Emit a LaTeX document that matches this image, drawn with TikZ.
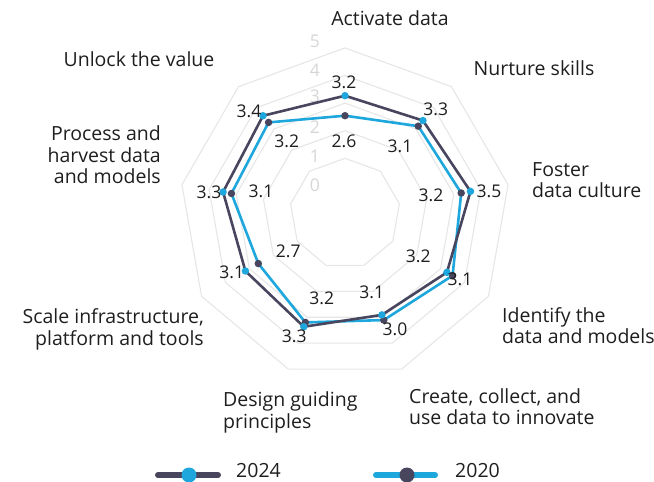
\documentclass[tikz,border=0pt]{standalone}
\usepackage{fontspec}
\setmainfont{Open Sans}
\definecolor{darkline}{HTML}{48455E}
\definecolor{blueline}{HTML}{1EA7DC}
\definecolor{gridc}{HTML}{E6E6E6}
\definecolor{ticklab}{HTML}{D6D6D6}
\definecolor{txt}{HTML}{1E1E1E}
\tikzset{
  ringline/.style={gridc, line width=1.1pt},
  ticktext/.style={ticklab, inner sep=0pt, font=\fontsize{17.5}{21.5}\selectfont},
  valtext/.style={txt, inner sep=0pt, font=\fontsize{17.5}{21.5}\selectfont},
  cattext/.style={txt, inner sep=0pt, font=\fontsize{19.5}{21.5}\selectfont},
  darkpath/.style={darkline, line width=2.6pt, line join=round},
  bluepath/.style={blueline, line width=2.6pt, line join=round},
  bluedot/.style={circle, fill=blueline, inner sep=0pt, minimum size=7.5pt},
  darkdot/.style={circle, fill=darkline, inner sep=0pt, minimum size=7.5pt},
  bigbluedot/.style={circle, fill=blueline, inner sep=0pt, minimum size=15pt},
  bigdarkdot/.style={circle, fill=darkline, inner sep=0pt, minimum size=15pt},
}
\begin{document}
\begin{tikzpicture}[x=1pt,y=-1pt]
\useasboundingbox (0,0) rectangle (654,482);
\def\cx{345}\def\cy{213.5}\def\u{27.6}
% grid rings
\foreach \k in {1,...,5}{
  \draw[ringline] ({\cx},{\cy-(\k+1)*\u})
    \foreach \a in {50,10,-30,-70,-110,-150,-190,-230}{ -- ({\cx+(\k+1)*\u*cos(\a)},{\cy-(\k+1)*\u*sin(\a)}) } -- cycle;
}
% tick labels
\foreach \t/\yy in {5/41,4/70,3/96.7,2/126.7,1/156.7,0/185}{
  \node[ticktext] (tick\t) at (315,\yy) {\t};
}
% data points: 2024 (blue markers, dark line), 2020 (dark markers, blue line)
\foreach \r [count=\i from 0] in {117.8,121.3,127.4,117.7,107.9,120.5,115,123.8,127.6}{
  \coordinate (p\i) at ({\cx+\r*cos(90-40*\i)},{\cy-\r*sin(90-40*\i)});
}
\foreach \r [count=\i from 0] in {97.8,114.0,118.0,124.2,113.4,115.9,100.1,115.3,118.9}{
  \coordinate (q\i) at ({\cx+\r*cos(90-40*\i)},{\cy-\r*sin(90-40*\i)});
}
\draw[bluepath] (q0) -- (q1) -- (q2) -- (q3) -- (q4) -- (q5) -- (q6) -- (q7) -- (q8) -- cycle;
\draw[darkpath] (p0) -- (p1) -- (p2) -- (p3) -- (p4) -- (p5) -- (p6) -- (p7) -- (p8) -- cycle;
\foreach \i in {0,...,8}{
  \node[darkdot] (qd\i) at (q\i) {};
  \node[bluedot] (pd\i) at (p\i) {};
}
% value labels 2024
\node[valtext] (v0) at (344,82.3) {3.2};
\node[valtext] (v1) at (435.7,109.3) {3.3};
\node[valtext] (v2) at (489,191) {3.5};
\node[valtext] (v3) at (460,279.3) {3.1};
\node[valtext] (v4) at (395,329.3) {3.0};
\node[valtext] (v5) at (294.3,336) {3.3};
\node[valtext] (v6) at (231.7,272.7) {3.1};
\node[valtext] (v7) at (209,192) {3.3};
\node[valtext] (v8) at (249,111.7) {3.4};
% value labels 2020
\node[valtext] (w0) at (344,141.7) {2.6};
\node[valtext] (w1) at (400,146.7) {3.1};
\node[valtext] (w2) at (431,195) {3.2};
\node[valtext] (w3) at (418.3,256.7) {3.2};
\node[valtext] (w4) at (371.7,292.7) {3.1};
\node[valtext] (w5) at (321.7,298.3) {3.2};
\node[valtext] (w6) at (288.3,251.7) {2.7};
\node[valtext] (w7) at (261,191.7) {3.1};
\node[valtext] (w8) at (286.7,141.7) {3.2};
% category labels
\node[cattext] (c0) at (390,18) {Activate data};
\node[cattext] (c1) at (534,68) {Nurture skills};
\node[cattext, anchor=west, align=left] (c2) at (532,180) {Foster\\data culture};
\node[cattext, anchor=west, align=left] (c3) at (502,325.5) {Identify the\\data and models};
\node[cattext, anchor=west, align=left] (c4) at (409,406.5) {Create, collect, and\\use data to innovate};
\node[cattext, anchor=west, align=left] (c5) at (223,412.5) {Design guiding\\principles};
\node[cattext, anchor=east, align=right] (c6) at (204,329.5) {Scale infrastructure,\\platform and tools};
\node[cattext, anchor=east, align=right] (c7) at (161,155) {Process and\\harvest data\\and models};
\node[cattext] (c8) at (139,59) {Unlock the value};
% legend
\coordinate (la) at (158,475);
\coordinate (lb) at (218,475);
\draw[darkline, line width=6pt, line cap=round] (la) -- (lb);
\node[bigbluedot] (lm1) at (189,475) {};
\node[cattext, anchor=west] (lt1) at (236,471) {2024};
\coordinate (lc) at (376,475);
\coordinate (ld) at (435,475);
\draw[blueline, line width=6pt, line cap=round] (lc) -- (ld);
\node[bigdarkdot] (lm2) at (407,475) {};
\node[cattext, anchor=west] (lt2) at (455,471) {2020};
\end{tikzpicture}
\end{document}
